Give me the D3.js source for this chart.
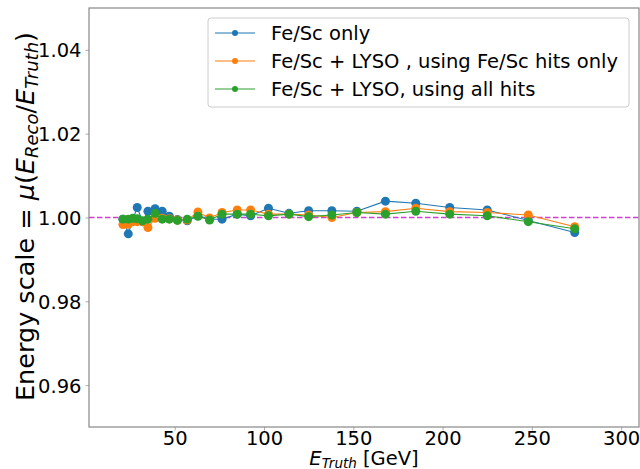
<!DOCTYPE html>
<html>
<head>
<meta charset="utf-8">
<script src="https://cdn.jsdelivr.net/npm/d3@7"></script>
<style>
  body { margin: 0; background: #fff; }
  text { font-family: "DejaVu Sans", sans-serif; fill: #000; }
</style>
</head>
<body>
<div id="chart"></div>
<script>
// --- DATA ---
const energies = [21, 24, 26.5, 29, 32, 35, 39, 43, 47, 51.5, 57, 63, 69.5, 76.5, 85, 92.5, 102.5, 114, 125, 138, 152, 168, 185, 204, 225, 248, 274];
const fescOnly = [0.9996, 0.9961, 0.9995, 1.0024, 0.9990, 1.0015, 1.0021, 1.0015, 1.0003, 0.9995, 0.9992, 1.0004, 0.9996, 0.9996, 1.0008, 1.0004, 1.0022, 1.0010, 1.0016, 1.0016, 1.0015, 1.0039, 1.0034, 1.0024, 1.0018, 0.9993, 0.9964];
const lysoFescHits = [0.9983, 0.9984, 0.9990, 0.9990, 0.9990, 0.9976, 0.9998, 0.9998, 0.9997, 0.9994, 0.9994, 1.0013, 0.9999, 1.0012, 1.0018, 1.0018, 1.0008, 1.0008, 1.0006, 1.0000, 1.0012, 1.0014, 1.0022, 1.0014, 1.0012, 1.0006, 0.9978];
const lysoAllHits = [0.9996, 0.9996, 0.9998, 0.9997, 0.9992, 0.9996, 1.0010, 0.9996, 0.9996, 0.9993, 0.9996, 1.0003, 0.9994, 1.0008, 1.0008, 1.0008, 1.0004, 1.0008, 1.0002, 1.0006, 1.0012, 1.0008, 1.0015, 1.0008, 1.0004, 0.9990, 0.9973];
const seriesNames = ["Fe/Sc only", "Fe/Sc + LYSO , using Fe/Sc hits only", "Fe/Sc + LYSO, using all hits"];
const seriesColors = ["#1f77b4", "#ff7f0e", "#2ca02c"];
const xTicks = [50, 100, 150, 200, 250, 300];
const yTicks = [0.96, 0.98, 1.00, 1.02, 1.04];

// --- SETUP ---
const width = 640, height = 469;
const plot = { left: 89, right: 639, top: 8, bottom: 427 };
const svg = d3.select("#chart").append("svg").attr("width", width).attr("height", height);

const x = d3.scaleLinear().domain([2, 310]).range([plot.left, plot.right]);
const y = d3.scaleLinear().domain([0.95, 1.05]).range([plot.bottom, plot.top]);

// --- AXES ---
const xAxis = svg.append("g").attr("transform", `translate(0,${plot.bottom})`)
    .call(d3.axisBottom(x).tickValues(xTicks).tickSize(3.5).tickPadding(1).tickFormat(d3.format("d")));
const yAxis = svg.append("g").attr("transform", `translate(${plot.left},0)`)
    .call(d3.axisLeft(y).tickValues(yTicks).tickSize(3.5).tickPadding(4).tickFormat(d3.format(".2f")));
[xAxis, yAxis].forEach(a => {
    a.select(".domain").remove();
    a.selectAll(".tick line").attr("stroke", "#999").attr("stroke-width", 0.8);
    a.selectAll(".tick text").style("font-size", "19.5px").attr("font-family", "DejaVu Sans");
});
yAxis.selectAll(".tick text").attr("dy", "0.36em");

// reference line at 1
svg.append("line")
    .attr("x1", plot.left).attr("x2", plot.right)
    .attr("y1", y(1)).attr("y2", y(1))
    .attr("stroke", "#bf00bf").attr("stroke-opacity", 0.75)
    .attr("stroke-width", 1.6).attr("stroke-dasharray", "5.5,2.5");

// --- SERIES ---
const allSeries = [fescOnly, lysoFescHits, lysoAllHits];
const line = d3.line().x((d, i) => x(energies[i])).y(d => y(d));
allSeries.forEach((vals, k) => {
    const g = svg.append("g");
    g.append("path").datum(vals).attr("d", line)
        .attr("fill", "none").attr("stroke", seriesColors[k]).attr("stroke-width", 1.1);
    g.selectAll("circle").data(vals).join("circle")
        .attr("cx", (d, i) => x(energies[i])).attr("cy", d => y(d))
        .attr("r", 4.5).attr("fill", seriesColors[k]);
});

// frame
svg.append("rect")
    .attr("x", plot.left).attr("y", plot.top)
    .attr("width", plot.right - plot.left).attr("height", plot.bottom - plot.top)
    .attr("fill", "none").attr("stroke", "#888").attr("stroke-width", 1.2);

// --- LEGEND ---
const legend = svg.append("g").attr("transform", "translate(208,18)");
legend.append("rect").attr("width", 421).attr("height", 89).attr("rx", 3)
    .attr("fill", "#fff").attr("fill-opacity", 0.8).attr("stroke", "#ccc").attr("stroke-width", 1);
seriesNames.forEach((name, k) => {
    const yy = 15 + k * 28;
    legend.append("line").attr("x1", 7).attr("x2", 47).attr("y1", yy).attr("y2", yy)
        .attr("stroke", seriesColors[k]).attr("stroke-width", 1.2);
    legend.append("circle").attr("cx", 27).attr("cy", yy).attr("r", 3).attr("fill", seriesColors[k]);
    legend.append("text").attr("x", 63).attr("y", yy).attr("dy", "0.36em")
        .style("font-size", "19.5px").text(name);
});

// --- AXIS LABELS ---
const xl = svg.append("text").attr("x", (plot.left + plot.right) / 2).attr("y", 465)
    .attr("text-anchor", "middle").style("font-size", "19.5px");
xl.append("tspan").attr("font-style", "italic").text("E");
xl.append("tspan").attr("font-style", "italic").attr("font-size", "13.5px").attr("dy", 2.5).text("Truth");
xl.append("tspan").attr("dy", -2.5).text(" [GeV]");

const yl = svg.append("text")
    .attr("transform", `translate(34,${(plot.top + plot.bottom) / 2 - 1}) rotate(-90)`)
    .attr("text-anchor", "middle").style("font-size", "25.5px");
yl.append("tspan").text("Energy scale = ");
yl.append("tspan").attr("font-style", "italic").text("μ");
yl.append("tspan").text("(");
yl.append("tspan").attr("font-style", "italic").text("E");
yl.append("tspan").attr("font-style", "italic").attr("font-size", "18px").attr("dy", 4).text("Reco");
yl.append("tspan").attr("dy", -4).text("/");
yl.append("tspan").attr("font-style", "italic").text("E");
yl.append("tspan").attr("font-style", "italic").attr("font-size", "18px").attr("dy", 4).text("Truth");
yl.append("tspan").attr("dy", -4).text(")");
</script>
</body>
</html>
